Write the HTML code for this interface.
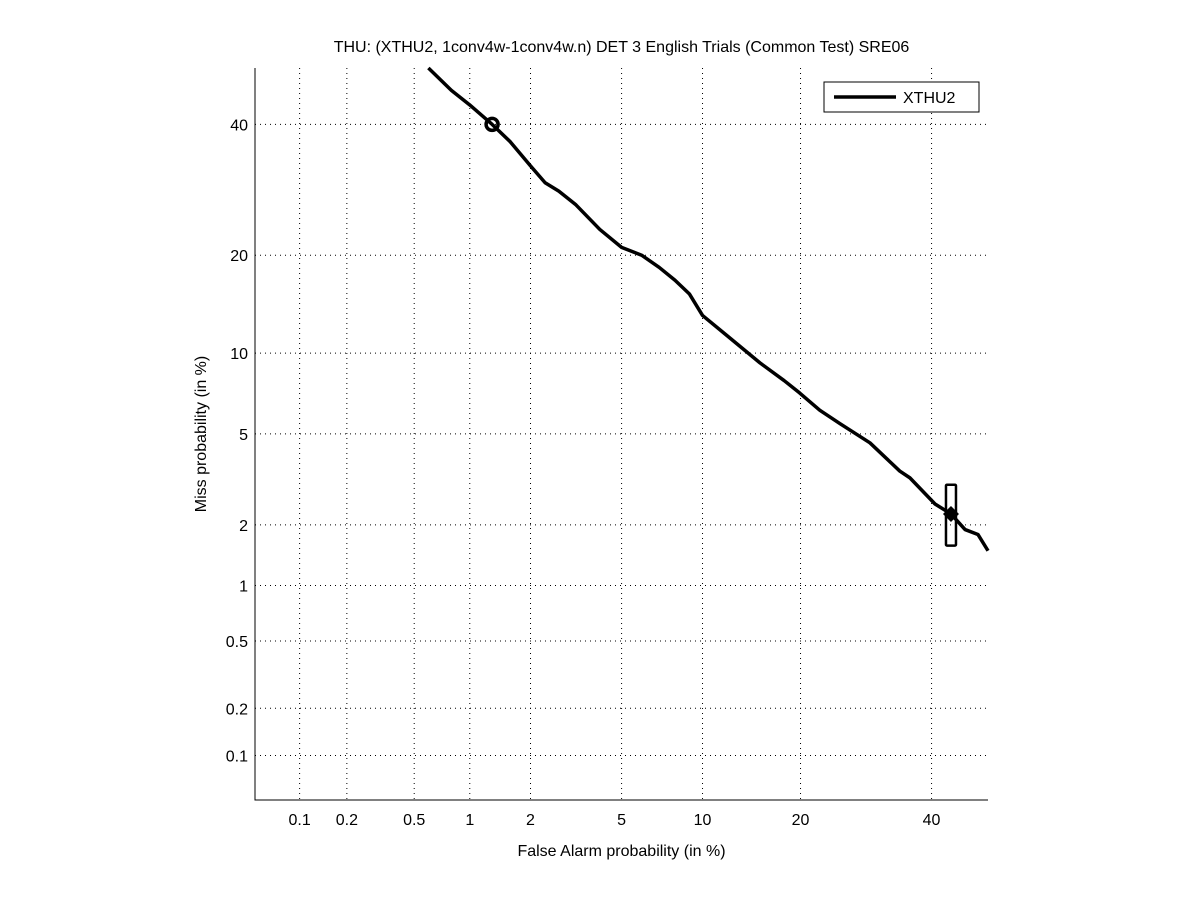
<!DOCTYPE html>
<html><head><meta charset="utf-8"><style>
body{margin:0;background:#fff;}
svg text{font-family:"Liberation Sans",sans-serif;font-size:16px;fill:#000;}
</style></head><body>
<svg id="c" width="1201" height="900" xmlns="http://www.w3.org/2000/svg"></svg>
<script>
const tickVals=[0.1,0.2,0.5,1,2,5,10,20,40];
const tickLabels=["0.1","0.2","0.5","1","2","5","10","20","40"];
const faVals=[0.6,0.8,1.0,1.3,1.6,2.0,2.34,2.7,3.2,4.07,5,6,7,8,9,10,12,15.3,18,19.9,22.5,25.3,29.8,34.6,36.3,40.6,43.4,45.9,48.2,50];
const missVals=[50,46,43.4,40,37,33,30.3,29,27,23.4,21,20,18.5,17,15.5,13.3,11.5,9.25,8.0,7.2,6.2,5.5,4.6,3.5,3.27,2.5,2.25,1.9,1.8,1.5];
const minDcfFa=[43.4], minDcfMiss=[2.25];
const actFa=[1.3], actMiss=[40];
const boxFa=[43.4], boxMissHi=[3.05], boxMissLo=[1.59];

function ninv(p){const a=[-39.6968302866538,220.946098424521,-275.928510446969,138.357751867269,-30.6647980661472,2.50662827745924],
b=[-54.4760987982241,161.585836858041,-155.698979859887,66.8013118877197,-13.2806815528857],
c=[-0.00778489400243029,-0.322396458041136,-2.40075827716184,-2.54973253934373,4.37466414146497,2.93816398269878],
d=[0.00778469570904146,0.32246712907004,2.445134137143,3.75440866190742];
let q,r;if(p<0.02425){q=Math.sqrt(-2*Math.log(p));return(((((c[0]*q+c[1])*q+c[2])*q+c[3])*q+c[4])*q+c[5])/((((d[0]*q+d[1])*q+d[2])*q+d[3])*q+1);}
if(p>1-0.02425){q=Math.sqrt(-2*Math.log(1-p));return-(((((c[0]*q+c[1])*q+c[2])*q+c[3])*q+c[4])*q+c[5])/((((d[0]*q+d[1])*q+d[2])*q+d[3])*q+1);}
q=p-0.5;r=q*q;return(((((a[0]*r+a[1])*r+a[2])*r+a[3])*r+a[4])*r+a[5])*q/(((((b[0]*r+b[1])*r+b[2])*r+b[3])*r+b[4])*r+1);}
const L=255,R=988,T=68,B=800,lo=ninv(0.0005),hi=ninv(0.5);
const X=v=>L+(ninv(v/100)-lo)/(hi-lo)*(R-L);
const Y=v=>B-(ninv(v/100)-lo)/(hi-lo)*(B-T);
const svg=document.getElementById('c');const NS='http://www.w3.org/2000/svg';
function el(t,a,txt){const e=document.createElementNS(NS,t);for(const k in a)e.setAttribute(k,a[k]);if(txt!==undefined)e.textContent=txt;svg.appendChild(e);return e;}
let e;
e=el('rect',{x:L,y:T,width:R-L,height:B-T,fill:'#fff'});


tickVals.forEach((v,i)=>{
 e=el('line',{x1:X(v),x2:X(v),y1:T,y2:B,stroke:'#000','stroke-width':1,'stroke-dasharray':'1,4'});
 
 
 e=el('line',{x1:L,x2:R,y1:Y(v),y2:Y(v),stroke:'#000','stroke-width':1,'stroke-dasharray':'1,4'});
 
 
 e=el('text',{x:X(v),y:B+25,'text-anchor':'middle'},tickLabels[i]);
 
 
 e=el('text',{x:L-7,y:Y(v)+6,'text-anchor':'end'},tickLabels[i]);
 
 
});
e=el('path',{d:`M${L} ${T}V${B}H${R}`,fill:'none',stroke:'#000','stroke-width':1});


e=el('polyline',{points:faVals.map((v,i)=>X(v)+','+Y(missVals[i])).join(' '),fill:'none',stroke:'#000','stroke-width':3.5,'stroke-linejoin':'round'});


e=el('circle',{cx:X(actFa[0]),cy:Y(actMiss[0]),r:6,fill:'none',stroke:'#000','stroke-width':3.5});


e=el('rect',{x:X(boxFa[0])-5,y:Y(boxMissHi[0]),width:10,height:Y(boxMissLo[0])-Y(boxMissHi[0]),fill:'none',stroke:'#000','stroke-width':2.5,rx:1});


const mx=X(minDcfFa[0]),my=Y(minDcfMiss[0]);
e=el('polygon',{points:`${mx-8},${my} ${mx},${my-8} ${mx+8},${my} ${mx},${my+8}`,fill:'#000'});


e=el('text',{x:(L+R)/2,y:52,'text-anchor':'middle'},'THU: (XTHU2, 1conv4w-1conv4w.n) DET 3 English Trials (Common Test) SRE06');


e=el('text',{x:(L+R)/2,y:856,'text-anchor':'middle'},'False Alarm probability (in %)');


e=el('text',{x:206,y:(T+B)/2,'text-anchor':'middle',transform:`rotate(-90 206 ${(T+B)/2})`},'Miss probability (in %)');


e=el('rect',{x:824,y:82,width:155,height:30,fill:'#fff',stroke:'#000','stroke-width':1});


e=el('line',{x1:834,x2:896,y1:97,y2:97,stroke:'#000','stroke-width':3.5});


e=el('text',{x:903,y:103},'XTHU2');


</script>
</body></html>
